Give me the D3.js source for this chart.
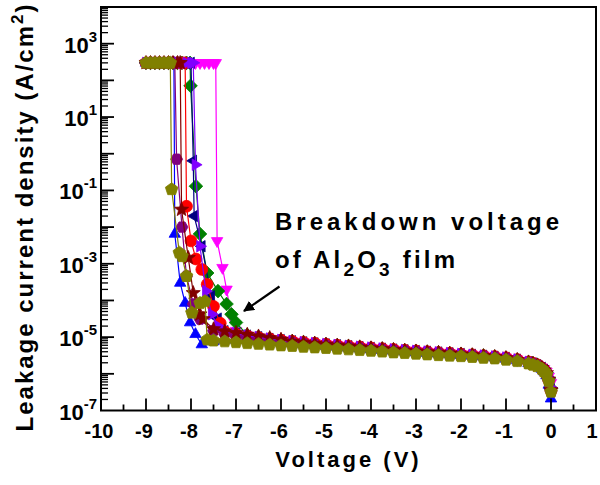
<!DOCTYPE html>
<html><head><meta charset="utf-8">
<script src="https://cdn.jsdelivr.net/npm/d3@7"></script>
<style>body{margin:0;background:#fff}svg{display:block}</style>
</head><body><svg id="c" width="600" height="485"></svg>
<script>
// ---- data (voltage in V, current density in A/cm^2) ----
const bandVoltage = [0,-0.05,-0.1,-0.15,-0.2,-0.3,-0.4,-0.5,-0.75,-1,-1.25,-1.5,-1.75,-2,-2.25,-2.5,-2.75,-3,-3.25,-3.5,-3.75,-4,-4.25,-4.5,-4.75,-5,-5.25,-5.5,-5.75,-6,-6.25,-6.5,-6.75,-7];
const bandMagenta = [5.7e-7,8.5e-7,1.15e-6,1.35e-6,1.5e-6,1.8e-6,2.0e-6,2.15e-6,2.5e-6,2.8e-6,3.0e-6,3.2e-6,3.35e-6,3.5e-6,3.7e-6,3.85e-6,4.05e-6,4.25e-6,4.45e-6,4.65e-6,4.9e-6,5.15e-6,5.45e-6,5.75e-6,6.1e-6,6.5e-6,6.9e-6,7.3e-6,7.8e-6,8.4e-6,9.1e-6,1.0e-5,1.12e-5,1.5e-5];
const bandGreen = [4.0e-7,7.5e-7,1.08e-6,1.3e-6,1.48e-6,1.75e-6,1.95e-6,2.1e-6,2.45e-6,2.75e-6,2.95e-6,3.15e-6,3.3e-6,3.5e-6,3.65e-6,3.85e-6,4.0e-6,4.2e-6,4.4e-6,4.6e-6,4.85e-6,5.1e-6,5.4e-6,5.7e-6,6.05e-6,6.4e-6,6.8e-6,7.3e-6,7.8e-6,8.4e-6,9.2e-6,1.02e-5,1.15e-5,2.5e-5];
const bandNavy = [3.8e-7,7.2e-7,1.05e-6,1.27e-6,1.46e-6,1.72e-6,1.92e-6,2.08e-6,2.42e-6,2.72e-6,2.92e-6,3.1e-6,3.28e-6,3.45e-6,3.62e-6,3.8e-6,3.98e-6,4.18e-6,4.38e-6,4.58e-6,4.82e-6,5.08e-6,5.36e-6,5.65e-6,5.98e-6,6.35e-6,6.75e-6,7.2e-6,7.7e-6,8.3e-6,9.0e-6,9.9e-6,1.1e-5,1.25e-5];
const bandBlue = [2.1e-7,5.0e-7,9.0e-7,1.15e-6,1.35e-6,1.65e-6,1.8e-6,1.95e-6,2.3e-6,2.55e-6,2.75e-6,2.9e-6,3.05e-6,3.2e-6,3.35e-6,3.5e-6,3.65e-6,3.8e-6,4.0e-6,4.2e-6,4.4e-6,4.6e-6,4.85e-6,5.1e-6,5.4e-6,5.7e-6,6.0e-6,6.3e-6,6.7e-6,7.1e-6,7.5e-6,7.9e-6,8.3e-6,8.6e-6];
const bandRed = [3.5e-7,6.8e-7,1.02e-6,1.25e-6,1.45e-6,1.75e-6,1.95e-6,2.1e-6,2.45e-6,2.75e-6,2.95e-6,3.1e-6,3.3e-6,3.45e-6,3.65e-6,3.8e-6,4.0e-6,4.2e-6,4.4e-6,4.6e-6,4.85e-6,5.1e-6,5.4e-6,5.7e-6,6.0e-6,6.4e-6,6.8e-6,7.2e-6,7.7e-6,8.3e-6,9.0e-6,9.8e-6,1.08e-5,1.2e-5];
const bandPurple = [3.4e-7,6.5e-7,1.0e-6,1.22e-6,1.42e-6,1.68e-6,1.87e-6,2.02e-6,2.36e-6,2.65e-6,2.85e-6,3.0e-6,3.18e-6,3.33e-6,3.5e-6,3.65e-6,3.82e-6,4.0e-6,4.18e-6,4.36e-6,4.58e-6,4.8e-6,5.05e-6,5.3e-6,5.6e-6,5.9e-6,6.25e-6,6.6e-6,7.0e-6,7.5e-6,8.0e-6,8.7e-6,9.5e-6,1.05e-5];
const bandViolet = [4.2e-7,7.8e-7,1.1e-6,1.3e-6,1.5e-6,1.78e-6,1.98e-6,2.12e-6,2.48e-6,2.78e-6,2.98e-6,3.15e-6,3.32e-6,3.5e-6,3.68e-6,3.86e-6,4.05e-6,4.25e-6,4.45e-6,4.68e-6,4.92e-6,5.2e-6,5.5e-6,5.8e-6,6.15e-6,6.5e-6,6.9e-6,7.35e-6,7.85e-6,8.45e-6,9.2e-6,1.01e-5,1.12e-5,1.27e-5];
const bandWine = [3.6e-7,7.0e-7,1.05e-6,1.25e-6,1.45e-6,1.7e-6,1.9e-6,2.05e-6,2.4e-6,2.7e-6,2.9e-6,3.05e-6,3.25e-6,3.4e-6,3.6e-6,3.75e-6,3.9e-6,4.1e-6,4.3e-6,4.5e-6,4.75e-6,5.0e-6,5.3e-6,5.6e-6,5.9e-6,6.3e-6,6.7e-6,7.1e-6,7.6e-6,8.6e-6,9.5e-6,1.05e-5,1.17e-5,1.3e-5];
const bandOlive = [3.2e-7,6.2e-7,9.5e-7,1.15e-6,1.35e-6,1.6e-6,1.75e-6,1.9e-6,2.2e-6,2.4e-6,2.6e-6,2.7e-6,2.85e-6,3.0e-6,3.1e-6,3.2e-6,3.35e-6,3.5e-6,3.65e-6,3.8e-6,4.0e-6,4.2e-6,4.4e-6,4.6e-6,4.8e-6,5.0e-6,5.2e-6,5.4e-6,5.7e-6,5.9e-6,6.2e-6,6.5e-6,6.8e-6,7.2e-6];

// breakdown region [V, J]
const kneeMagenta = [[-7.1,3.5e-5],[-7.21,2.0e-4],[-7.3,7.8e-4],[-7.42,4.2e-3],[-7.45,300]];
const kneeGreen = [[-7.1,4.2e-5],[-7.21,8.0e-5],[-7.4,1.8e-4],[-7.64,5.6e-4],[-7.8,6.5e-3],[-7.89,0.13],[-8.01,71],[-8.02,300]];
const kneeNavy = [[-7.25,1.45e-5],[-7.4,3.2e-5],[-7.55,1.3e-4],[-7.76,3.0e-3],[-7.93,2.0e-2],[-7.95,0.64],[-8.0,300]];
const kneeBlue = [[-7.25,8.4e-6],[-7.5,7.6e-6],[-7.76,6.3e-6],[-7.9,1.2e-5],[-8.02,2.5e-5],[-8.13,8.5e-5],[-8.24,3.0e-4],[-8.36,6.5e-3],[-8.38,300]];
const kneeRed = [[-7.25,1.4e-5],[-7.35,2.4e-5],[-7.5,6.9e-5],[-7.64,2.75e-4],[-7.76,7e-4],[-7.89,1.35e-3],[-8.0,4.2e-3],[-8.1,3.7e-2],[-8.13,300]];
const kneePurple = [[-7.25,1.2e-5],[-7.5,1.5e-5],[-7.8,3.1e-5],[-7.95,8e-5],[-8.1,4.6e-4],[-8.2,1.0e-2],[-8.32,0.71],[-8.36,300]];
const kneeViolet = [[-7.25,1.45e-5],[-7.4,2.0e-5],[-7.54,4.2e-5],[-7.67,1.8e-4],[-7.8,3.0e-3],[-7.9,0.5],[-7.95,300]];
const kneeWine = [[-7.25,1.45e-5],[-7.5,1.65e-5],[-7.73,3.1e-5],[-7.8,4.2e-5],[-7.95,1.6e-4],[-8.06,1.45e-3],[-8.21,3.0e-2],[-8.24,300]];
const kneeOlive = [[-7.25,7.6e-6],[-7.5,8.0e-6],[-7.64,8.5e-6],[-7.69,9.5e-5],[-7.8,8.5e-5],[-7.98,4.6e-5],[-8.1,4.6e-4],[-8.2,1.6e-3],[-8.26,2.0e-3],[-8.43,0.107],[-8.46,300]];

// compliance (current limit) region
const complianceVoltage = [-7.5,-7.6,-7.7,-7.8,-7.9,-8.0,-8.1,-8.2,-8.3,-8.4,-8.5,-8.6,-8.7,-8.8,-8.9,-9.0];
const complianceCurrent = 300;

const seriesColors = ["#FF00FF","#008000","#000080","#0000FF","#FF0000","#800080","#8000FF","#800000","#808000"];
const seriesMarkers = ["down","diamond","left","up","circle","hexagon","right","star","pentagon"];
const seriesBands = [bandMagenta,bandGreen,bandNavy,bandBlue,bandRed,bandPurple,bandViolet,bandWine,bandOlive];
const seriesKnees = [kneeMagenta,kneeGreen,kneeNavy,kneeBlue,kneeRed,kneePurple,kneeViolet,kneeWine,kneeOlive];

const xTicks = [-10,-9,-8,-7,-6,-5,-4,-3,-2,-1,0,1];
const yLabelExps = [3,1,-1,-3,-5,-7];

// ---- drawing ----
const svg = d3.select("#c");
const FONT = "'Liberation Sans', Arial, sans-serif";
const x = d3.scaleLinear().domain([-10,1]).range([101,596]);
const y = d3.scaleLog().domain([1e-7,1e4]).range([410.5,7]);

function polyPath(n, r, startDeg, inner) {
  const pts = [];
  const m = inner ? n*2 : n;
  for (let i=0;i<m;i++){
    const a = (startDeg + i*360/m)*Math.PI/180;
    const rr = inner ? (i%2===0 ? r : inner) : r;
    pts.push([rr*Math.cos(a), rr*Math.sin(a)]);
  }
  return "M"+pts.map(p=>p[0].toFixed(2)+","+p[1].toFixed(2)).join("L")+"Z";
}
const markerPaths = {
  up: polyPath(3,6.6,-90),
  down: polyPath(3,6.6,90),
  left: polyPath(3,6.6,180),
  right: polyPath(3,6.6,0),
  diamond: polyPath(4,6.8,-90),
  hexagon: polyPath(6,6,0),
  star: polyPath(5,7.4,-90,3.2),
  pentagon: polyPath(5,6.6,-90),
  circle: d3.symbol(d3.symbolCircle, 110)()
};

const line = d3.line().x(d=>x(d[0])).y(d=>y(d[1]));
const gData = svg.append("g");
seriesBands.forEach((band, i) => {
  const knee = seriesKnees[i];
  const endV = knee[knee.length-1][0];
  const pts = bandVoltage.map((v,k)=>[v, band[k]])
    .concat(knee)
    .concat(complianceVoltage.filter(v=>v<endV-0.02).map(v=>[v, complianceCurrent]));
  const g = gData.append("g");
  g.append("path").attr("d", line(pts)).attr("fill","none")
    .attr("stroke", seriesColors[i]).attr("stroke-width",1.2);
  g.selectAll("path.m").data(pts).enter().append("path").attr("class","m")
    .attr("d", markerPaths[seriesMarkers[i]])
    .attr("transform", d=>`translate(${x(d[0])},${y(d[1])})`)
    .attr("fill", seriesColors[i]).attr("stroke", seriesColors[i]).attr("stroke-width",0.8);
});

// frame
const [x0,x1] = x.range(), yb = y(1e-7), yt = y(1e4);
const gAx = svg.append("g").attr("stroke","#000");
gAx.append("rect").attr("x",x0).attr("y",yt).attr("width",x1-x0).attr("height",yb-yt)
  .attr("fill","none").attr("stroke-width",2);
// x ticks
xTicks.forEach(t=>{
  if (t>-10 && t<1) gAx.append("line").attr("x1",x(t)).attr("x2",x(t)).attr("y1",yb).attr("y2",yb-12).attr("stroke-width",1.8);
  if (t<1) gAx.append("line").attr("x1",x(t+0.5)).attr("x2",x(t+0.5)).attr("y1",yb).attr("y2",yb-6).attr("stroke-width",1.8);
});
// y ticks
for (let e=-7;e<=3;e++){
  if (e>-7) gAx.append("line").attr("x1",x0).attr("x2",x0+13).attr("y1",y(Math.pow(10,e))).attr("y2",y(Math.pow(10,e))).attr("stroke-width",1.8);
  for (let m=2;m<=9;m++){
    const v = m*Math.pow(10,e);
    gAx.append("line").attr("x1",x0).attr("x2",x0+7).attr("y1",y(v)).attr("y2",y(v)).attr("stroke-width",1.3);
  }
}
// x tick labels
svg.append("g").selectAll("text").data(xTicks).enter().append("text")
  .attr("x", d=> d===1 ? x(d)-4 : x(d)-(d<0?2:0)).attr("y",438).attr("text-anchor","middle")
  .attr("font-family",FONT).attr("font-weight","bold").attr("font-size",20).text(d=>d);
// y tick labels
yLabelExps.forEach(e=>{
  const t = svg.append("text").attr("x",97).attr("y",y(Math.pow(10,e))+9).attr("text-anchor","end")
    .attr("font-family",FONT).attr("font-weight","bold").attr("font-size",22);
  t.append("tspan").text("10");
  t.append("tspan").attr("dy",-11).attr("font-size",15).text(e);
});
// axis titles
svg.append("text").attr("x",348.5).attr("y",467).attr("text-anchor","middle")
  .attr("font-family",FONT).attr("font-weight","bold").attr("font-size",22).attr("letter-spacing",3)
  .text("Voltage (V)");
const yt1 = svg.append("text").attr("transform","translate(33,217) rotate(-90)").attr("text-anchor","middle")
  .attr("font-family",FONT).attr("font-weight","bold").attr("font-size",24).attr("letter-spacing",2);
yt1.append("tspan").text("Leakage current density (A/cm");
yt1.append("tspan").attr("dy",-10).attr("font-size",17).text("2");
yt1.append("tspan").attr("dy",10).text(")");

// annotation
svg.append("text").attr("x",275).attr("y",230)
  .attr("font-family",FONT).attr("font-weight","bold").attr("font-size",24).attr("letter-spacing",4)
  .text("Breakdown voltage");
const an = svg.append("text").attr("x",275).attr("y",268)
  .attr("font-family",FONT).attr("font-weight","bold").attr("font-size",24).attr("letter-spacing",3.2);
an.append("tspan").text("of Al");
an.append("tspan").attr("dy",8).attr("font-size",19).text("2");
an.append("tspan").attr("dy",-8).text("O");
an.append("tspan").attr("dy",8).attr("font-size",19).text("3");
an.append("tspan").attr("dy",-8).text(" film");
svg.append("defs").append("marker").attr("id","ah").attr("viewBox","0 0 10 10").attr("refX",9).attr("refY",5)
  .attr("markerWidth",5).attr("markerHeight",5).attr("orient","auto")
  .append("path").attr("d","M0,0L10,5L0,10Z").attr("fill","#000");
svg.append("line").attr("x1",279.5).attr("y1",286.5).attr("x2",244).attr("y2",311)
  .attr("stroke","#000").attr("stroke-width",2.2).attr("marker-end","url(#ah)");
</script></body></html>
